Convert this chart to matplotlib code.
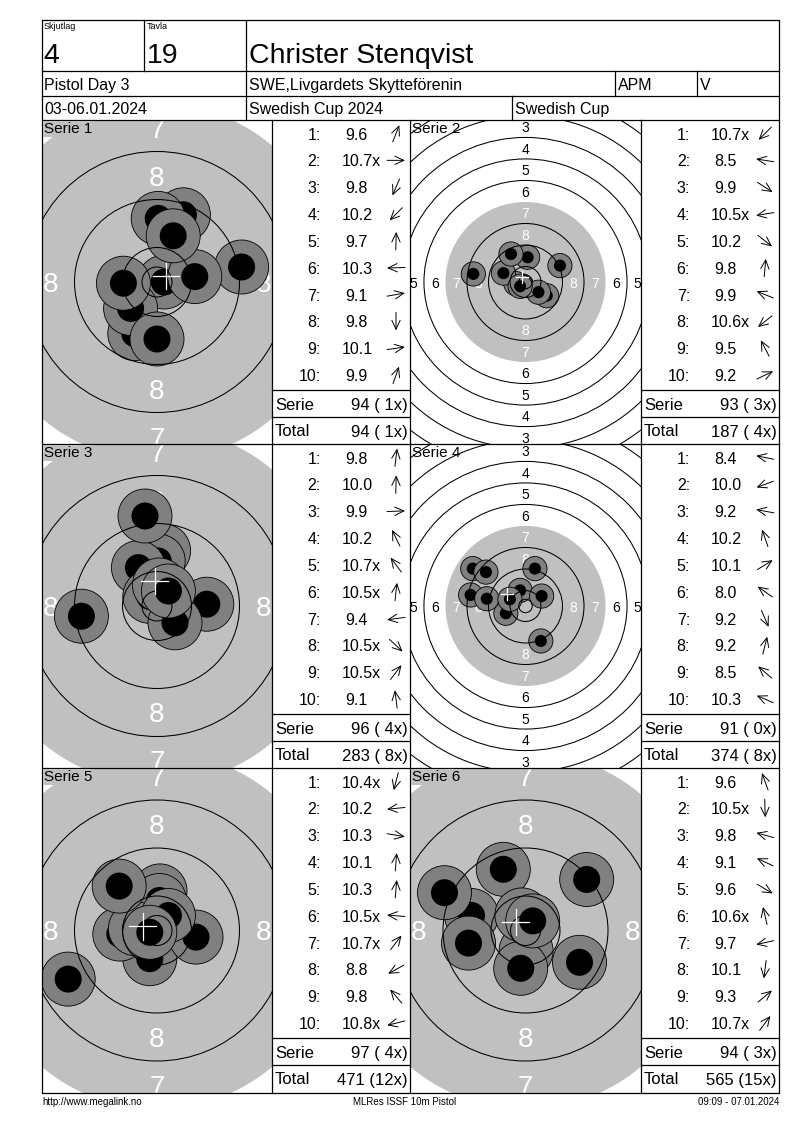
import numpy as np
import matplotlib
matplotlib.use("Agg")
import matplotlib.pyplot as plt
from matplotlib.patches import Circle

plt.rcParams['font.family'] = ['Liberation Sans', 'DejaVu Sans']

W, H = 800, 1130

# header
skjutlag = "4"
tavla = "19"
shooter = "Christer Stenqvist"
event = "Pistol Day 3"
club = "SWE,Livgardets Skytteförenin"
klass = "APM"
cat = "V"
dates = "03-06.01.2024"
comp = "Swedish Cup 2024"
cup = "Swedish Cup"
footer_left = "http://www.megalink.no"
footer_mid = "MLRes ISSF 10m Pistol"
footer_right = "09:09 - 07.01.2024"

series_names = ["Serie 1", "Serie 2", "Serie 3", "Serie 4", "Serie 5", "Serie 6"]
zoomed = [True, False, True, False, True, True]

# shot positions in mm from target centre
shot_x = [
    [4.4, 1.2, -3.7, -4.4, 0.2, -5.6, 14.1, 0.0, 6.3, 2.7],
    [-1.4, -19.4, 7.9, -3.6, 4.8, 0.8, -8.2, -2.0, -5.4, 12.8],
    [1.1, 0.2, 8.3, -3.1, -1.2, 0.4, -12.6, 3.0, 1.9, -2.0],
    [-20.4, -7.3, -14.4, -2.0, 6.0, -19.6, 5.7, 3.5, -14.7, -5.8],
    [-1.2, -6.2, 6.5, 0.5, 0.4, -3.6, 1.9, -14.8, -6.3, -1.2],
    [-3.7, 0.1, -9.0, -13.5, 9.0, -0.6, -9.5, -0.8, 10.2, 1.2],
]
shot_y = [
    [11.2, 0.0, -8.6, -4.4, 10.6, -0.2, 2.5, -9.5, 0.9, 7.7],
    [-1.4, 3.0, -5.1, -0.6, -3.8, 9.2, 3.3, -1.6, 10.4, 6.1],
    [9.2, 7.5, 0.3, 6.4, 1.6, 3.5, -1.7, -2.8, 2.5, 15.0],
    [4.1, -2.7, 2.7, 5.8, 3.7, 13.9, -13.0, 13.9, 12.6, 2.5],
    [-4.7, -0.6, -1.1, 6.6, 5.0, 0.3, 2.5, -8.1, 7.4, -0.3],
    [10.2, -3.4, 2.5, 6.3, -5.3, 2.6, -2.1, -6.3, 8.5, 1.6],
]
scores = [
    ["9.6", "10.7x", "9.8", "10.2", "9.7", "10.3", "9.1", "9.8", "10.1", "9.9"],
    ["10.7x", "8.5", "9.9", "10.5x", "10.2", "9.8", "9.9", "10.6x", "9.5", "9.2"],
    ["9.8", "10.0", "9.9", "10.2", "10.7x", "10.5x", "9.4", "10.5x", "10.5x", "9.1"],
    ["8.4", "10.0", "9.2", "10.2", "10.1", "8.0", "9.2", "9.2", "8.5", "10.3"],
    ["10.4x", "10.2", "10.3", "10.1", "10.3", "10.5x", "10.7x", "8.8", "9.8", "10.8x"],
    ["9.6", "10.5x", "9.8", "9.1", "9.6", "10.6x", "9.7", "10.1", "9.3", "10.7x"],
]
serie_sum = ["94 ( 1x)", "93 ( 3x)", "96 ( 4x)", "91 ( 0x)", "97 ( 4x)", "94 ( 3x)"]
totals = ["94 ( 1x)", "187 ( 4x)", "283 ( 8x)", "374 ( 8x)", "471 (12x)", "565 (15x)"]

# ISSF 10m pistol target (mm)
R10 = 5.75
RING_W = 8.0
INNER_TEN = 2.5
SHOT_OUT = 4.5
SHOT_IN = 2.25
GRAY = '#c0c0c0'
SHOT_GRAY = '#808080'


def ring_r(n):
    return R10 + (10 - n) * RING_W


fig = plt.figure(figsize=(W / 100, H / 100), dpi=100)
page = fig.add_axes([0, 0, 1, 1], zorder=5)
page.set_xlim(0, W)
page.set_ylim(H, 0)
page.axis('off')

lw = 0.9
L, R, T, B = 42, 779, 20, 1093
page.plot([L, R, R, L, L], [T, T, B, B, T], color='black', lw=lw)
for y in (71, 96, 120, 444, 768):
    page.plot([L, R], [y, y], color='black', lw=lw)
page.plot([144, 144], [T, 71], color='black', lw=lw)
page.plot([246, 246], [T, 120], color='black', lw=lw)
page.plot([615, 615], [71, 96], color='black', lw=lw)
page.plot([697, 697], [71, 96], color='black', lw=lw)
page.plot([512, 512], [96, 120], color='black', lw=lw)
for x in (272, 410, 641):
    page.plot([x, x], [120, B], color='black', lw=lw)

page.text(44, 22, "Skjutlag", fontsize=6.5, va='top')
page.text(147, 22, "Tavla", fontsize=6.5, va='top')
page.text(43, 53, skjutlag, fontsize=20.5, va='center_baseline')
page.text(147, 53, tavla, fontsize=20.5, va='center_baseline')
page.text(249, 53, shooter, fontsize=20.5, va='center_baseline')
for x, s in ((44, event), (249, club), (618, klass), (700, cat)):
    page.text(x, 84, s, fontsize=11.5, va='center_baseline')
for x, s in ((44, dates), (249, comp), (515, cup)):
    page.text(x, 108, s, fontsize=11.5, va='center_baseline')

page.text(42, 1102, footer_left, fontsize=7, va='center')
page.text(405, 1102, footer_mid, fontsize=7, va='center', ha='center')
page.text(779, 1102, footer_right, fontsize=7, va='center', ha='right')

row_tops = [120, 444, 768]
tgt_left = [42, 410]
tbl_left = [272, 641]
tbl_right = [410, 779]

for k in range(6):
    r, c = divmod(k, 2)
    top = row_tops[r]
    ch = (row_tops[r + 1] if r < 2 else B) - top
    x0 = tgt_left[c]
    cw = tbl_left[c] - x0
    ax = fig.add_axes([x0 / W, 1 - (top + ch) / H, cw / W, ch / H], zorder=1)
    ax.axis('off')
    scale = 6.0 if zoomed[k] else 2.69  # px per mm
    hw, hh = cw / 2 / scale, ch / 2 / scale
    ax.set_xlim(-hw, hw)
    ax.set_ylim(-hh, hh)

    ax.add_patch(Circle((0, 0), ring_r(7), fc=GRAY, ec='none', zorder=1))
    fs = 20 if zoomed[k] else 10
    for n in range(1, 9):
        rl = ring_r(n) - RING_W / 2
        col = 'white' if n >= 7 else 'black'
        for dx, dy in ((0, 1), (0, -1), (1, 0), (-1, 0)):
            ax.text(dx * rl, dy * rl, str(n), color=col, fontsize=fs,
                    ha='center', va='center_baseline', clip_on=True, zorder=2)

    xs, ys = shot_x[k], shot_y[k]
    for i in range(10):
        ax.add_patch(Circle((xs[i], ys[i]), SHOT_OUT, fc=SHOT_GRAY, ec='black',
                            lw=0.6, zorder=3 + i * 0.01))
        ax.add_patch(Circle((xs[i], ys[i]), SHOT_IN, fc='black', ec='none',
                            zorder=3 + i * 0.01 + 0.005))

    for n in (1, 2, 3, 4, 5, 6, 8, 9, 10):
        ax.add_patch(Circle((0, 0), ring_r(n), fc='none', ec='black', lw=0.75, zorder=4))
    ax.add_patch(Circle((0, 0), INNER_TEN, fc='none', ec='black', lw=0.75, zorder=4))

    mx, my = np.mean(xs), np.mean(ys)
    cs = 2.2
    ax.plot([mx - cs, mx + cs], [my, my], color='white', lw=0.9, zorder=6)
    ax.plot([mx, mx], [my - cs, my + cs], color='white', lw=0.9, zorder=6)

    box = dict(fc=GRAY, ec='none', pad=1) if zoomed[k] else None
    page.text(x0 + 2, top + 2, series_names[k], fontsize=11, va='top', bbox=box)

    # score table
    tl, tr = tbl_left[c], tbl_right[c]
    for i in range(10):
        yy = top + 13.5 + i * 26.85
        page.text(tl + 49, yy, f"{i + 1}:", fontsize=11.5, ha='right', va='center_baseline')
        s = scores[k][i]
        sx = tl + 70 if len(s.rstrip('x')) == 4 else tl + 73
        page.text(sx, yy, s, fontsize=11.5, ha='left', va='center_baseline')
        ang = np.arctan2(ys[i], xs[i])
        ux, uy = np.cos(ang) * 9, -np.sin(ang) * 9
        axc = tl + 124
        page.annotate('', xy=(axc + ux, yy + uy), xytext=(axc - ux, yy - uy),
                      arrowprops=dict(arrowstyle='->,head_length=0.65,head_width=0.3',
                                      lw=0.7, color='black', shrinkA=0, shrinkB=0))
    page.plot([tl, tr], [top + 270, top + 270], color='black', lw=lw)
    page.plot([tl, tr], [top + 297, top + 297], color='black', lw=lw)
    page.text(tl + 3, top + 284, "Serie", fontsize=12, va='center_baseline')
    page.text(tr - 2, top + 284, serie_sum[k], fontsize=12, ha='right', va='center_baseline')
    page.text(tl + 3, top + 310.5, "Total", fontsize=12, va='center_baseline')
    page.text(tr - 2, top + 310.5, totals[k], fontsize=12, ha='right', va='center_baseline')

fig.savefig("out.png", dpi=100, facecolor='white')
